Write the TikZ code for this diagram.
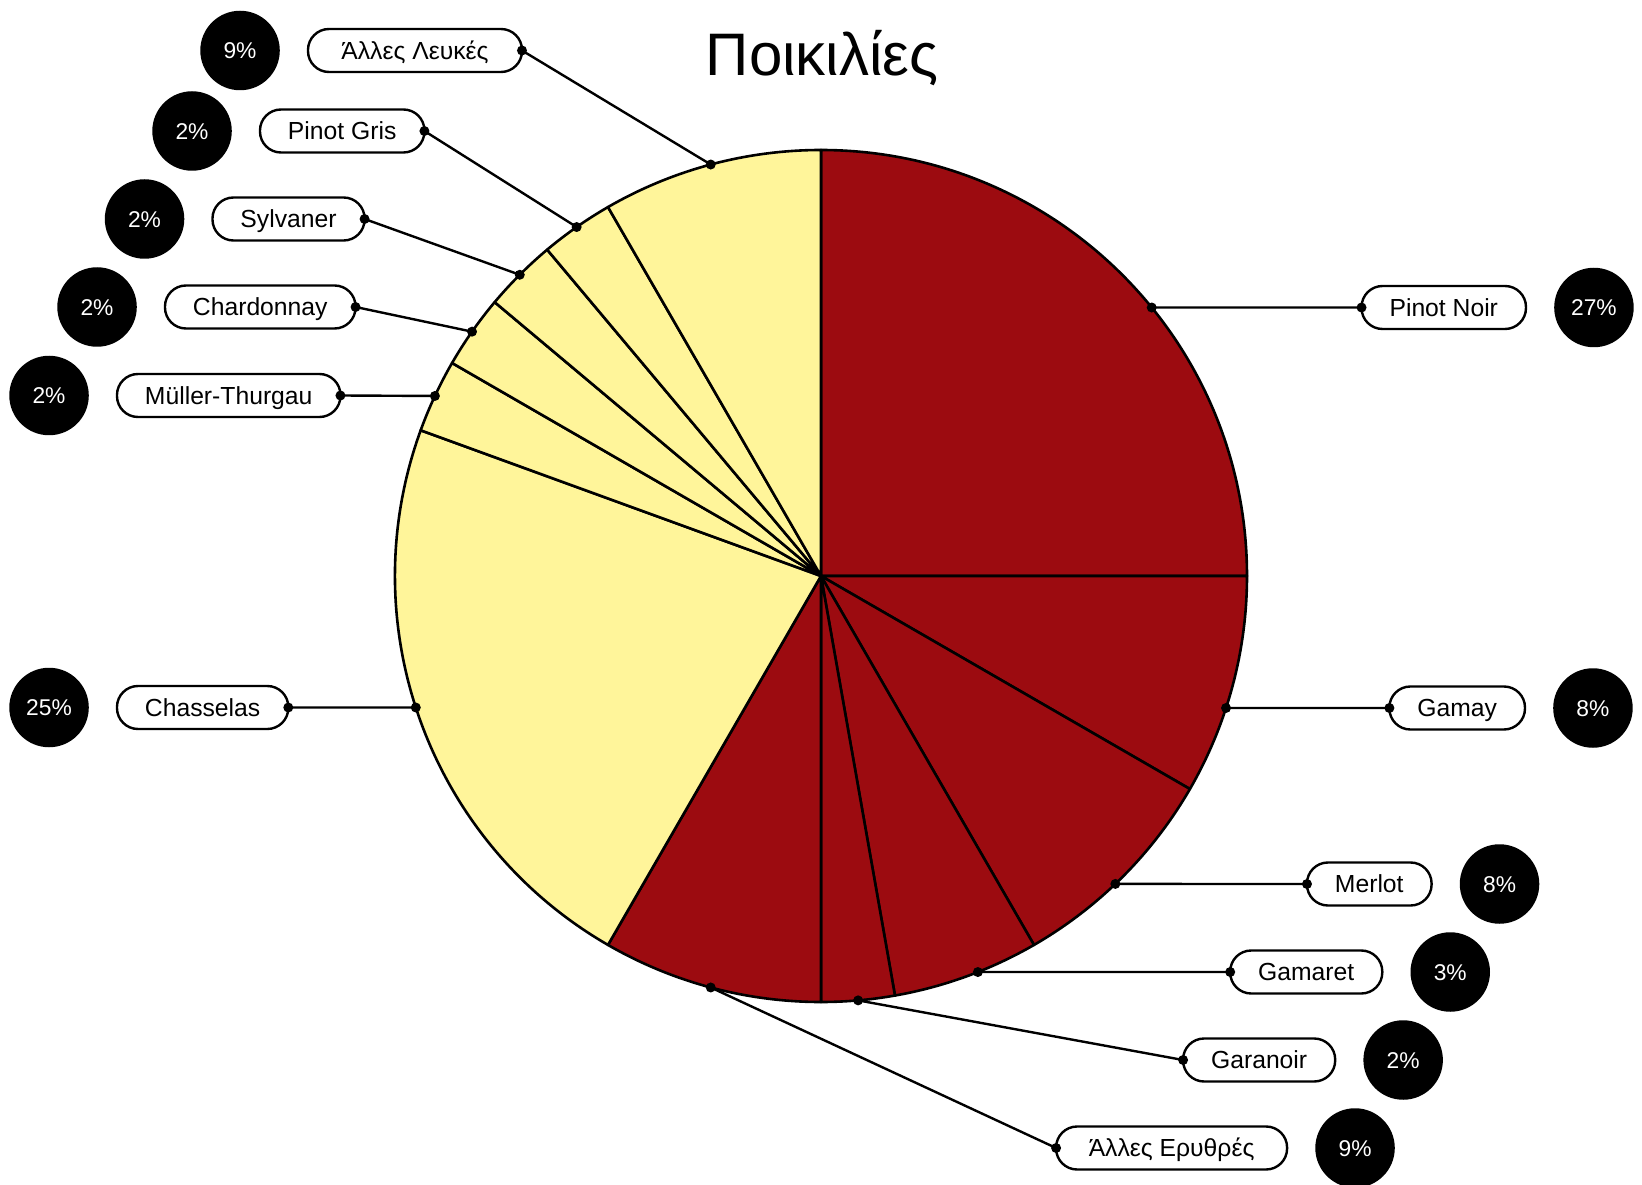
\documentclass[tikz,border=0pt]{standalone}
\usepackage{fontspec}
\setmainfont{Liberation Sans}
\usetikzlibrary{positioning}
\definecolor{winered}{HTML}{9C0B10}
\definecolor{wineyellow}{HTML}{FFF59A}

\begin{document}
\begin{tikzpicture}[x=1pt,y=1pt,
  slice/.style={draw=black,line width=2.6pt,line join=round},
  lab/.style={draw,line width=2.4pt,fill=white,rounded corners=21pt,minimum height=43pt,
    inner xsep=28pt,inner ysep=0pt,outer sep=0pt,text height=17.8pt,text depth=0pt,
    font=\fontsize{24.7}{28}\selectfont},
  pct/.style={circle,fill=black,text=white,minimum size=79.5pt,inner sep=0pt,
    text height=16.4pt,text depth=0pt,font=\fontsize{22.8}{26}\selectfont},
  con/.style={line width=2.4pt},
  dot/.style={fill=black}]
  \useasboundingbox (-821,-608) rectangle (821,576);
  % title
  \node[anchor=base,font=\fontsize{60}{70}\selectfont] (title) at (1,500.6) {Ποικιλίες};
  % pie
  \foreach \a/\b/\c in {0/90/winered,-30/0/winered,-60/-30/winered,-80/-60/winered,
      -90/-80/winered,-120/-90/winered,160/240/wineyellow,150/160/wineyellow,
      140/150/wineyellow,130/140/wineyellow,120/130/wineyellow,90/120/wineyellow}
    \filldraw[slice,fill=\c] (0,0) -- (\a:426) arc[start angle=\a,end angle=\b,radius=426pt] -- cycle;
  % points on the rim
  \coordinate (qalw) at (105:426);
  \coordinate (qpgr) at (125:426);
  \coordinate (qsyl) at (135:426);
  \coordinate (qcha) at (145:426);
  \coordinate (qmth) at (155:426);
  \coordinate (qchs) at (197.98:426);
  \coordinate (qpno) at (39.07:426);
  \coordinate (qgmy) at (-18.05:426);
  \coordinate (qmer) at (-46.29:426);
  \coordinate (qgmt) at (-68.39:426);
  \coordinate (qgar) at (-85:426);
  \coordinate (qaer) at (-105:426);
  % white varieties
  \node[lab,anchor=west,minimum width=214pt] (alw) at (-513,525.5) {Άλλες Λευκές};
  \node[lab,anchor=west] (pgr) at (-561,445) {Pinot Gris};
  \node[lab,anchor=west] (syl) at (-608.5,357) {Sylvaner};
  \node[lab,anchor=west] (cha) at (-656,269) {Chardonnay};
  \node[lab,anchor=west] (mth) at (-704,180.5) {Müller-Thurgau};
  \node[lab,anchor=west] (chs) at (-704,-131.5) {Chasselas};
  \node[pct,left=28pt of alw] (palw) {9\%};
  \node[pct,left=28pt of pgr] (ppgr) {2\%};
  \node[pct,left=28pt of syl] (psyl) {2\%};
  \node[pct,left=28pt of cha] (pcha) {2\%};
  \node[pct,left=28pt of mth] (pmth) {2\%};
  \node[pct,left=28pt of chs] (pchs) {25\%};
  % red varieties
  \node[lab,anchor=east] (pno) at (705,268.5) {Pinot Noir};
  \node[lab,anchor=east] (gmy) at (704,-132) {Gamay};
  \node[lab,anchor=east] (mer) at (610.6,-308) {Merlot};
  \node[lab,anchor=east] (gmt) at (561.3,-396) {Gamaret};
  \node[lab,anchor=east] (gar) at (514.2,-484) {Garanoir};
  \node[lab,anchor=east,minimum width=231pt] (aer) at (466.1,-572) {Άλλες Ερυθρές};
  \node[pct,right=28pt of pno] (ppno) {27\%};
  \node[pct,right=28pt of gmy] (pgmy) {8\%};
  \node[pct,right=28pt of mer] (pmer) {8\%};
  \node[pct,right=28pt of gmt] (pgmt) {3\%};
  \node[pct,right=28pt of gar] (pgar) {2\%};
  \node[pct,right=28pt of aer] (paer) {9\%};
  % connectors
  \foreach \n in {alw,pgr,syl,cha,mth,chs} {
    \draw[con] (\n.east) -- (q\n);
    \fill[dot] (\n.east) circle[radius=5pt] (q\n) circle[radius=5pt];
  }
  \foreach \n in {pno,gmy,mer,gmt,gar,aer} {
    \draw[con] (\n.west) -- (q\n);
    \fill[dot] (\n.west) circle[radius=5pt] (q\n) circle[radius=5pt];
  }
\end{tikzpicture}
\end{document}
